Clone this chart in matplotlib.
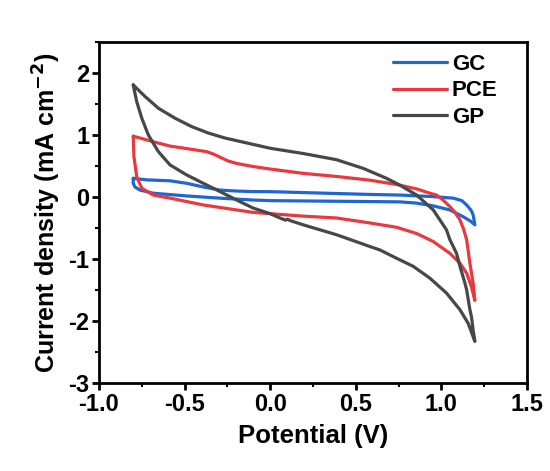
import matplotlib
matplotlib.use("Agg")
import matplotlib.pyplot as plt
from matplotlib.ticker import MultipleLocator

# CV loops: potential (V) and current density (mA cm-2)
# upper branch left -> right, then lower branch right -> left

# GC
gc_x = [-0.80, -0.72, -0.585, -0.488, -0.39, -0.293, -0.196, -0.099, 0.0, 0.193, 0.388, 0.583,
        0.758, 0.953, 1.07, 1.12, 1.148, 1.175, 1.186, 1.196,
        1.17, 1.128, 1.05, 0.953, 0.856, 0.758, 0.583, 0.388, 0.193, 0.0, -0.099, -0.293,
        -0.488, -0.683, -0.76, -0.79, -0.80, -0.80]
gc_y = [0.30, 0.275, 0.26, 0.22, 0.16, 0.11, 0.095, 0.086, 0.085, 0.07, 0.055, 0.04,
        0.03, 0.005, -0.02, -0.06, -0.13, -0.22, -0.29, -0.45,
        -0.39, -0.32, -0.21, -0.145, -0.10, -0.08, -0.075, -0.07, -0.065, -0.06, -0.05, -0.02,
        0.016, 0.06, 0.11, 0.16, 0.22, 0.30]

# PCE
pce_x = [-0.80, -0.683, -0.585, -0.488, -0.371, -0.33, -0.293, -0.246, -0.196, -0.099, 0.0,
         0.193, 0.388, 0.583, 0.739, 0.855, 0.933, 0.972, 1.01, 1.05, 1.08, 1.109, 1.13, 1.148,
         1.167, 1.186, 1.196,
         1.176, 1.148, 1.109, 1.05, 0.953, 0.856, 0.739, 0.583, 0.388, 0.193, 0.0, -0.099,
         -0.196, -0.293, -0.39, -0.488, -0.585, -0.683, -0.75, -0.78, -0.796, -0.80]
pce_y = [0.98, 0.89, 0.82, 0.78, 0.73, 0.69, 0.64, 0.58, 0.54, 0.49, 0.45,
         0.38, 0.33, 0.27, 0.20, 0.13, 0.06, 0.03, -0.05, -0.156, -0.25, -0.37, -0.52, -0.69,
         -1.07, -1.39, -1.67,
         -1.45, -1.23, -1.07, -0.91, -0.72, -0.59, -0.49, -0.42, -0.34, -0.31, -0.27, -0.25,
         -0.21, -0.17, -0.13, -0.075, -0.02, 0.03, 0.14, 0.33, 0.65, 0.98]

# GP
gp_x = [-0.80, -0.731, -0.653, -0.556, -0.459, -0.361, -0.264, -0.16, 0.0, 0.193, 0.388,
        0.544, 0.68, 0.758, 0.856, 0.953, 1.03, 1.05, 1.089, 1.109, 1.138, 1.148, 1.167,
        1.176, 1.186, 1.196,
        1.157, 1.109, 1.03, 0.933, 0.836, 0.739, 0.641, 0.583, 0.388, 0.193, 0.12, 0.10, 0.09,
        0.057, 0.0, -0.099, -0.196, -0.293, -0.391, -0.488, -0.585, -0.653, -0.712, -0.75,
        -0.78, -0.80]
gp_y = [1.806, 1.62, 1.43, 1.27, 1.135, 1.03, 0.95, 0.885, 0.785, 0.70, 0.60,
        0.46, 0.30, 0.19, 0.03, -0.21, -0.53, -0.69, -0.91, -1.12, -1.39, -1.5, -1.82,
        -1.93, -2.15, -2.33,
        -2.04, -1.82, -1.55, -1.31, -1.12, -0.99, -0.855, -0.80, -0.61, -0.45, -0.385, -0.36, -0.375,
        -0.34, -0.27, -0.18, -0.05, 0.086, 0.22, 0.355, 0.516, 0.73, 1.0, 1.27,
        1.54, 1.806]

plt.rcParams['font.family'] = ['Liberation Sans', 'DejaVu Sans']
plt.rcParams['font.weight'] = 'bold'
plt.rcParams['mathtext.default'] = 'bf'

fig, ax = plt.subplots(figsize=(5.5, 4.71), dpi=100)
fig.subplots_adjust(left=0.18, right=0.958, top=0.911, bottom=0.187)

kw = dict(lw=2.3, solid_joinstyle='round', solid_capstyle='round')
ax.plot(gc_x, gc_y, color='#1f66d1', label='GC', **kw)
ax.plot(pce_x, pce_y, color='#e8393e', label='PCE', **kw)
ax.plot(gp_x, gp_y, color='#474747', label='GP', **kw)

ax.set_xlim(-1.0, 1.5)
ax.set_ylim(-3, 2.5)
ax.xaxis.set_minor_locator(MultipleLocator(0.25))
ax.yaxis.set_minor_locator(MultipleLocator(0.5))
ax.set_xticks([-1.0, -0.5, 0.0, 0.5, 1.0, 1.5])
ax.set_xticklabels(['-1.0', '-0.5', '0.0', '0.5', '1.0', '1.5'])
ax.set_yticks([-3, -2, -1, 0, 1, 2])
ax.set_yticklabels(['-3', '-2', '-1', '0', '1', '2'])

for s in ax.spines.values():
    s.set_linewidth(2)
ax.tick_params(which='major', direction='out', length=5, width=2, labelsize=17, pad=2)
ax.tick_params(which='minor', direction='out', length=3, width=1.5)

ax.set_xlabel('Potential (V)', fontsize=18.5, fontweight='bold', labelpad=6)
ax.set_ylabel('Current density (mA cm$^{-2}$)', fontsize=18, fontweight='bold', labelpad=4)

leg = ax.legend(loc='upper left', bbox_to_anchor=(0.687, 0.965), frameon=False, fontsize=16,
                handlelength=2.45, handletextpad=0.2, labelspacing=0.25,
                borderaxespad=0, borderpad=0)
for t in leg.get_texts():
    t.set_fontweight('bold')

fig.savefig('out.png', dpi=100)
